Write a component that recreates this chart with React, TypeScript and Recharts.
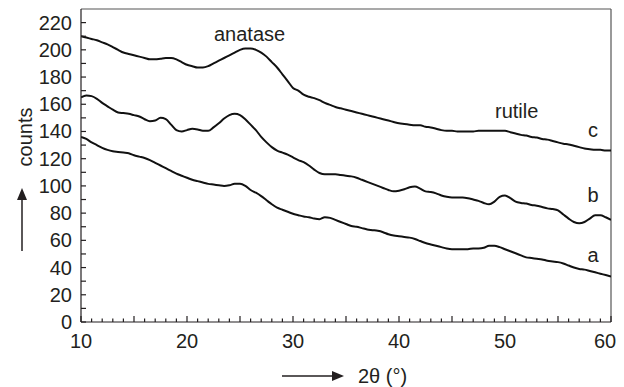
import React from 'react';
import { LineChart, Line, XAxis, YAxis, ReferenceLine, ReferenceDot } from 'recharts';

// 2θ positions (degrees)
const angles = [
  10, 10.5, 11, 11.5, 12, 12.5, 13, 13.5, 14, 14.5, 15, 15.5, 16, 16.5, 17, 17.5, 18, 18.5, 19, 19.5,
  20, 20.5, 21, 21.5, 22, 22.5, 23, 23.5, 24, 24.5, 25, 25.5, 26, 26.5, 27, 27.5, 28, 28.5, 29, 29.5,
  30, 30.5, 31, 31.5, 32, 32.5, 33, 33.5, 34, 34.5, 35, 35.5, 36, 36.5, 37, 37.5, 38, 38.5, 39, 39.5,
  40, 40.5, 41, 41.5, 42, 42.5, 43, 43.5, 44, 44.5, 45, 45.5, 46, 46.5, 47, 47.5, 48, 48.5, 49, 49.5,
  50, 50.5, 51, 51.5, 52, 52.5, 53, 53.5, 54, 54.5, 55, 55.5, 56, 56.5, 57, 57.5, 58, 58.5, 59, 59.5, 60,
];

const seriesA = [
  136, 134.5, 132, 130, 128, 126.5, 125.5, 125, 124.5, 124, 122.5, 121.5, 120.5, 119, 117, 115, 113, 111, 109, 107.5,
  106, 104.5, 103.5, 102.5, 101.5, 101, 100.5, 100, 100.5, 101.5, 101.5, 100, 97, 95, 92.5, 89.5, 86.5, 84, 82.5, 81,
  79.5, 78.5, 77.5, 77, 76, 75.5, 77, 76.5, 75, 73.5, 72, 70.5, 70, 69, 68, 67.5, 67, 66, 64.5, 63.5,
  63, 62.5, 62, 61, 59.5, 58, 57, 56, 55, 54, 53.5, 53.5, 53.5, 53.5, 54, 54, 54.5, 56, 56, 55,
  53.5, 52, 50.5, 49, 47.5, 47, 46.5, 46, 45, 44.5, 44, 43, 41.5, 40, 39, 38.5, 37.5, 36.5, 35.5, 34.5, 33.5,
];

const seriesB = [
  165, 166.5, 166, 164, 161, 158.5, 156, 154, 153.5, 153, 152, 151, 149, 147.5, 148, 150, 149, 145, 141, 140,
  141, 142, 141.5, 140.5, 140.5, 143, 146, 149.5, 152, 153, 152, 149, 145, 141, 136, 132, 128.5, 126, 124.5, 123,
  121, 119, 117.5, 115, 112, 109.5, 108.5, 108.5, 108.5, 108, 107.5, 107, 106, 104.5, 103, 101.5, 100, 98.5, 97, 96,
  96.5, 97.5, 99, 99.5, 98, 96, 95.5, 94.5, 93, 92, 91.5, 91.5, 91.5, 91, 90, 89, 87.5, 86.5, 88.5, 92,
  93, 91, 88.5, 87.5, 87, 86, 85.5, 84.5, 83.5, 83, 82, 79, 76, 73.5, 72.5, 73.5, 76, 78.5, 78.5, 77, 75,
];

const seriesC = [
  210, 209, 208, 207, 205.5, 204, 202, 200, 198, 197, 196, 195, 194, 193, 193, 193.5, 194, 194, 193, 191,
  189, 188, 187, 187, 188, 190, 192, 194, 196, 198, 200, 201, 201, 200, 198, 195, 191, 187, 182, 177,
  172, 170, 167, 165.5, 164.5, 163, 161, 159.5, 158, 157, 156, 155, 154, 153, 152, 151, 150, 149, 148, 147,
  146, 145.5, 145, 144.5, 144.5, 143.5, 143, 142, 141, 140.5, 140.5, 140, 140, 140, 140, 140.5, 140.5, 140.5, 140.5, 140.5,
  140.5, 139.5, 138.5, 137.5, 137, 136, 135.5, 134.5, 134, 133, 132, 131, 130.5, 129.5, 128.5, 127.5, 127, 126.5, 126.5, 126, 126,
];

const yTicks = [0, 10, 20, 30, 40, 50, 60, 70, 80, 90, 100, 110, 120, 130, 140, 150, 160, 170, 180, 190, 200, 210, 220];
const xTicks = Array.from({ length: 51 }, (_, i) => 10 + i);

const data = angles.map((x, i) => ({ x, a: seriesA[i], b: seriesB[i], c: seriesC[i] }));

const INK = '#231f20';
const FONT = 'Arial, "Liberation Sans", sans-serif';

const YTick = (props: any) => {
  const { x, y, payload } = props;
  const major = payload.value % 20 === 0;
  return (
    <g>
      <line x1={x} x2={x + 5} y1={y} y2={y} stroke={INK} strokeWidth={1.2} />
      {major && (
        <text x={x - 9} y={y + 7} textAnchor="end" fontSize={20} fill={INK} fontFamily={FONT}>
          {payload.value}
        </text>
      )}
    </g>
  );
};

const XTick = (props: any) => {
  const { x, y, payload } = props;
  const v = payload.value;
  const len = v % 5 === 0 ? 6 : 3.5;
  // last label sits a little inside the frame, as in the source figure
  const shift = v === 60 ? -6 : 0;
  return (
    <g>
      <line x1={x} x2={x} y1={y} y2={y - len} stroke={INK} strokeWidth={1.2} />
      {v % 10 === 0 && (
        <text x={x + shift} y={y + 26} textAnchor="middle" fontSize={20} fill={INK} fontFamily={FONT}>
          {v}
        </text>
      )}
    </g>
  );
};

const YTitle = () => (
  <g>
    <text x={17} y={129} transform="rotate(-90, 17, 129)" textAnchor="middle" dominantBaseline="central"
      fontSize={20} fill={INK} fontFamily={FONT}>counts</text>
    <line x1={14} x2={14} y1={243} y2={188} stroke={INK} strokeWidth={1.5} />
    <polygon points="14,180 9,192 19,192" fill={INK} />
  </g>
);

const XTitle = () => (
  <g>
    <line x1={274} x2={327} y1={368} y2={368} stroke={INK} strokeWidth={1.5} />
    <polygon points="336,368 324,363 324,373" fill={INK} />
    <text x={350} y={375} fontSize={20} fill={INK} fontFamily={FONT}>2θ (°)</text>
  </g>
);

const note = (text: string) => ({ value: text, position: 'center' as const, fill: INK, fontSize: 20, fontFamily: FONT });

export default function App() {
  return (
    <LineChart width={616} height={379} data={data} margin={{ top: 1, right: 13, left: 0, bottom: 0 }}>
      <XAxis dataKey="x" type="number" domain={[10, 60]} ticks={xTicks} interval={0} tick={<XTick />}
        tickLine={false} tickSize={0} tickMargin={0} height={65} axisLine={{ stroke: INK, strokeWidth: 1.2 }}
        label={<XTitle />} allowDataOverflow />
      <YAxis type="number" domain={[0, 230]} ticks={yTicks} interval={0} tick={<YTick />}
        tickLine={false} tickSize={0} tickMargin={0} width={73} axisLine={{ stroke: INK, strokeWidth: 1.2 }}
        label={<YTitle />} allowDataOverflow />
      <ReferenceLine y={230} stroke="#555" strokeWidth={1.2} />
      <ReferenceLine x={60} stroke="#555" strokeWidth={1.2} />
      <Line dataKey="a" stroke="#111" strokeWidth={2} dot={false} isAnimationActive={false} type="monotone" />
      <Line dataKey="b" stroke="#111" strokeWidth={2} dot={false} isAnimationActive={false} type="monotone" />
      <Line dataKey="c" stroke="#111" strokeWidth={2} dot={false} isAnimationActive={false} type="monotone" />
      <ReferenceDot x={25.9} y={211.5} r={1} fill="none" stroke="none" label={note('anatase')} />
      <ReferenceDot x={51.1} y={155} r={1} fill="none" stroke="none" label={note('rutile')} />
      <ReferenceDot x={58.3} y={141.3} r={1} fill="none" stroke="none" label={note('c')} />
      <ReferenceDot x={58.3} y={93.3} r={1} fill="none" stroke="none" label={note('b')} />
      <ReferenceDot x={58.3} y={49} r={1} fill="none" stroke="none" label={note('a')} />
    </LineChart>
  );
}
